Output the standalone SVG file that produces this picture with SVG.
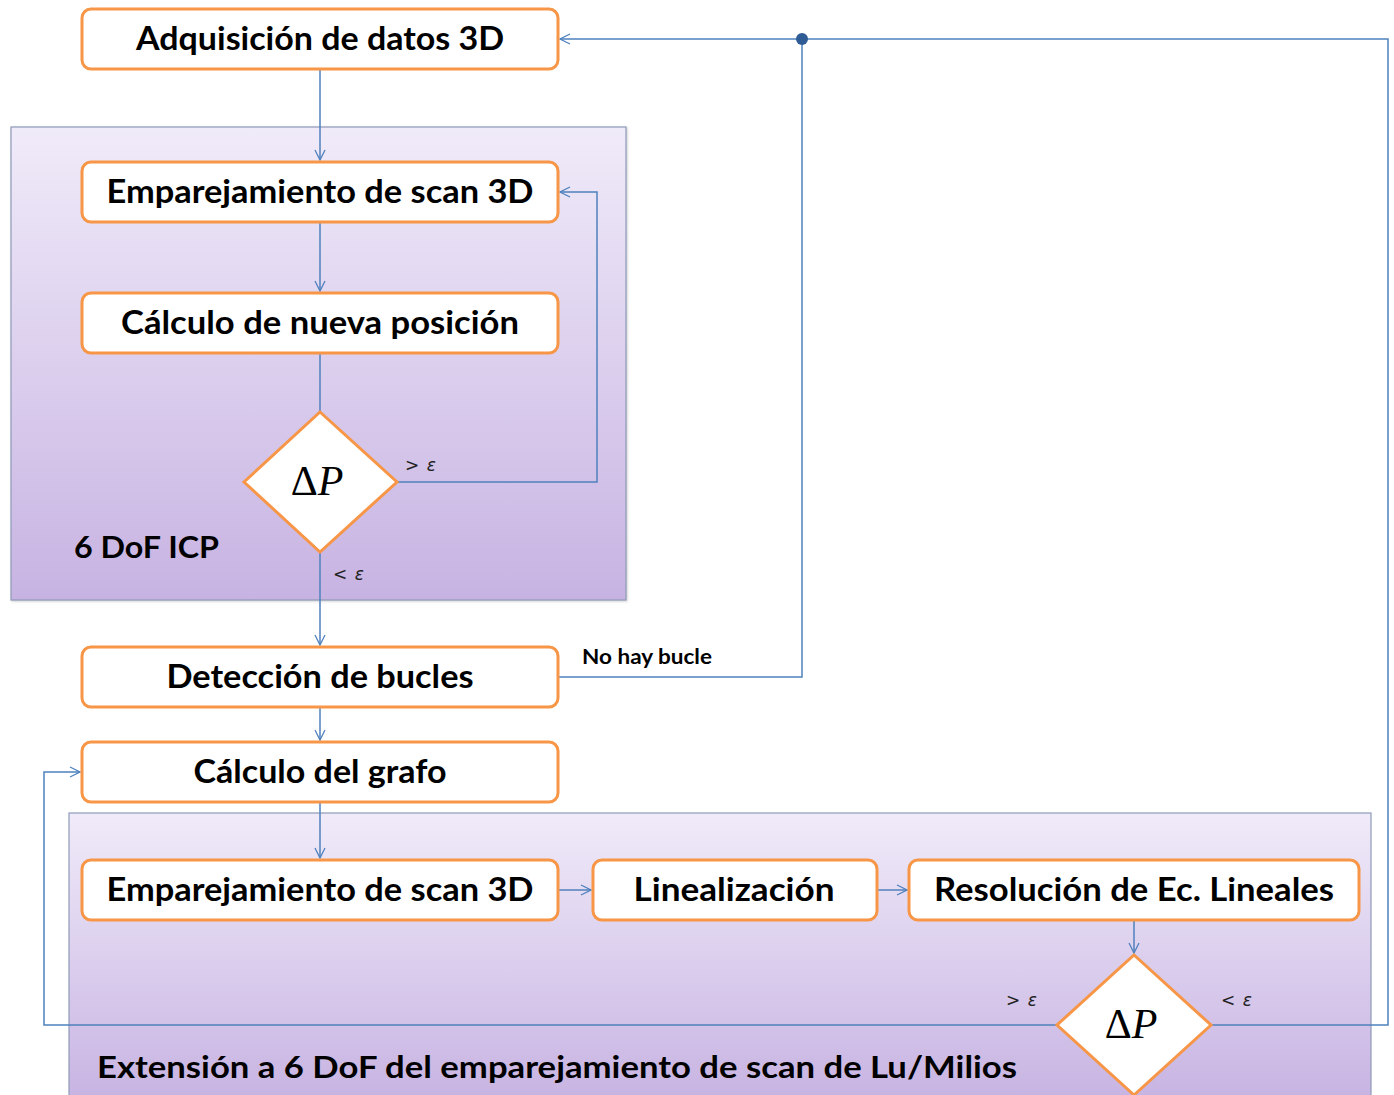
<svg xmlns="http://www.w3.org/2000/svg" width="1394" height="1095" viewBox="0 0 1394 1095">
<defs>
<linearGradient id="g1" x1="0" y1="0" x2="0" y2="1">
<stop offset="0" stop-color="#F0EBF9"/>
<stop offset="1" stop-color="#C7B3E2"/>
</linearGradient>
<linearGradient id="g2" x1="0" y1="0" x2="0" y2="1">
<stop offset="0" stop-color="#F0EBF9"/>
<stop offset="1" stop-color="#C7B3E2"/>
</linearGradient>
<marker id="arr" viewBox="0 0 12 12" refX="11" refY="6" markerWidth="12" markerHeight="12" markerUnits="userSpaceOnUse" orient="auto">
<path d="M1,1 L11,6 L1,11" fill="none" stroke="#4F81BD" stroke-width="1.3"/>
</marker>
<filter id="sh" x="-5%" y="-5%" width="110%" height="120%">
<feDropShadow dx="1" dy="1" stdDeviation="1" flood-color="#888" flood-opacity="0.4"/>
</filter>
</defs>
<style>
.box{fill:#fff;stroke:#F79646;stroke-width:3}
.cont{stroke:#8E9AB8;stroke-width:1.2}
.lbl{font-family:Lato,"Liberation Sans",Arial,sans-serif;font-weight:bold;font-size:32px;fill:#000;text-anchor:middle}
.big{font-family:Lato,"Liberation Sans",Arial,sans-serif;font-weight:bold;font-size:31px;fill:#000}
.dp{font-family:"Liberation Serif","Times New Roman",serif;font-size:42px;fill:#000;text-anchor:middle}
.eps{font-family:"DejaVu Sans",sans-serif;font-style:italic;font-size:17px;fill:#222;word-spacing:2px}
.con{fill:none;stroke:#4F81BD;stroke-width:1.5}
</style>

<g id="icp-container">
<rect class="cont" x="11" y="127" width="615" height="473" fill="url(#g1)" filter="url(#sh)"/>
<text class="big" x="74" y="558" textLength="145" lengthAdjust="spacingAndGlyphs">6 DoF ICP</text>
</g>
<g id="lu-container">
<rect class="cont" x="69" y="813" width="1302" height="290" fill="url(#g2)"/>
<text class="big" x="97" y="1078" textLength="920" lengthAdjust="spacingAndGlyphs">Extensión a 6 DoF del emparejamiento de scan de Lu/Milios</text>
</g>

<g id="connectors">
<path class="con" d="M320,69 V160" marker-end="url(#arr)"/>
<path class="con" d="M320,222 V291" marker-end="url(#arr)"/>
<path class="con" d="M320,353 V412"/>
<path class="con" d="M398,482 H597 V192 H560" marker-end="url(#arr)"/>
<path class="con" d="M320,552 V645" marker-end="url(#arr)"/>
<path class="con" d="M558,677 H802 V39 H560" marker-end="url(#arr)"/>
<path class="con" d="M802,39 H1388 V1025 H1212"/>
<circle cx="802" cy="39" r="6" fill="#2F5C94"/>
<path class="con" d="M320,707 V740" marker-end="url(#arr)"/>
<path class="con" d="M320,802 V858" marker-end="url(#arr)"/>
<path class="con" d="M558,890 H591" marker-end="url(#arr)"/>
<path class="con" d="M877,890 H907" marker-end="url(#arr)"/>
<path class="con" d="M1134,920 V953" marker-end="url(#arr)"/>
<path class="con" d="M1057,1025 H44 V772 H80" marker-end="url(#arr)"/>
<text class="eps" x="405" y="471">&gt; ε</text>
<text class="eps" x="333" y="580">&lt; ε</text>
<text class="eps" x="1006" y="1006">&gt; ε</text>
<text class="eps" x="1221" y="1006">&lt; ε</text>
<text x="582" y="664" font-family="Lato,Liberation Sans,Arial,sans-serif" font-weight="bold" font-size="20" textLength="130" lengthAdjust="spacingAndGlyphs">No hay bucle</text>
</g>

<g id="n-adquisicion">
<rect class="box" x="82" y="9" width="476" height="60" rx="9"/>
<text class="lbl" x="320" y="50" textLength="368" lengthAdjust="spacingAndGlyphs">Adquisición de datos 3D</text>
</g>
<g id="n-emparejamiento1">
<rect class="box" x="82" y="162" width="476" height="60" rx="9"/>
<text class="lbl" x="320" y="203" textLength="427" lengthAdjust="spacingAndGlyphs">Emparejamiento de scan 3D</text>
</g>
<g id="n-calculo-posicion">
<rect class="box" x="82" y="293" width="476" height="60" rx="9"/>
<text class="lbl" x="320" y="334" textLength="398" lengthAdjust="spacingAndGlyphs">Cálculo de nueva posición</text>
</g>
<g id="n-dp1">
<polygon class="box" points="320,412 397,482 320,552 244,482"/>
<text class="dp" x="317" y="495"><tspan>Δ</tspan><tspan font-style="italic">P</tspan></text>
</g>
<g id="n-deteccion">
<rect class="box" x="82" y="647" width="476" height="60" rx="9"/>
<text class="lbl" x="320" y="688" textLength="307" lengthAdjust="spacingAndGlyphs">Detección de bucles</text>
</g>
<g id="n-grafo">
<rect class="box" x="82" y="742" width="476" height="60" rx="9"/>
<text class="lbl" x="320" y="783" textLength="253" lengthAdjust="spacingAndGlyphs">Cálculo del grafo</text>
</g>
<g id="n-emparejamiento2">
<rect class="box" x="82" y="860" width="476" height="60" rx="9"/>
<text class="lbl" x="320" y="901" textLength="427" lengthAdjust="spacingAndGlyphs">Emparejamiento de scan 3D</text>
</g>
<g id="n-linealizacion">
<rect class="box" x="593" y="860" width="284" height="60" rx="9"/>
<text class="lbl" x="734" y="901" textLength="201" lengthAdjust="spacingAndGlyphs">Linealización</text>
</g>
<g id="n-resolucion">
<rect class="box" x="909" y="860" width="450" height="60" rx="9"/>
<text class="lbl" x="1134" y="901" textLength="400" lengthAdjust="spacingAndGlyphs">Resolución de Ec. Lineales</text>
</g>
<g id="n-dp2">
<polygon class="box" points="1134,955 1211,1025 1134,1095 1057,1025"/>
<text class="dp" x="1131" y="1038"><tspan>Δ</tspan><tspan font-style="italic">P</tspan></text>
</g>
</svg>
